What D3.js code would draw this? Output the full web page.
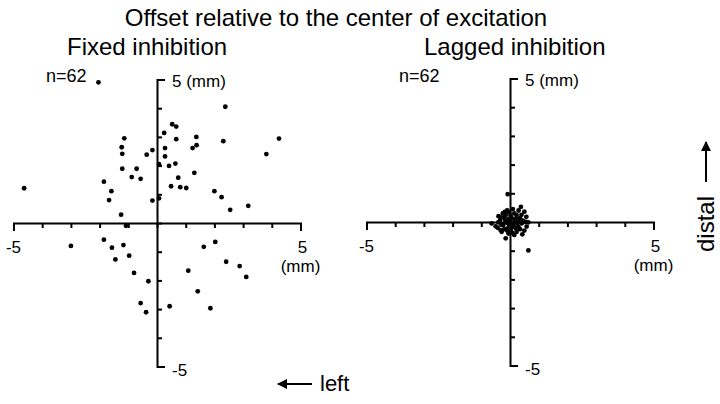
<!DOCTYPE html>
<html lang="en">
<head>
<meta charset="UTF-8">
<title>Offset relative to the center of excitation</title>
<script src="https://cdn.jsdelivr.net/npm/d3@7"></script>
<style>
  body { margin: 0; background: #fff; }
  svg text { font-family: "Liberation Sans", Arial, Helvetica, sans-serif; fill: #000; }
</style>
</head>
<body>
<svg id="chart" width="720" height="404"></svg>
<script>
// values, in mm (x = left/right, y = distal)
var fixedX = [-2.04, -4.63, -1.14, -1.23, -1.21, -1.21, -0.71, -0.88, -0.57, -0.36,
              -0.16, -1.85, -1.59, -1.67, -1.25, -0.16, 0.07, -1.08,
              2.38, 0.53, 0.67, 0.25, 0.67, 1.37, 2.31, 4.25, 0.28, 1.24,
              1.38, 0.28, 3.81, 0.07, 0.42, 0.64, 1.30, 0.74, 0.49, 0.81,
              1.02, 2.00, 2.25, 2.55, 3.18,
              -3.00, -1.85, -1.57, -1.17, -1.45, -0.97, -0.80, -0.30, -0.57, -0.38, 0.44,
              1.63, 2.03, 1.09, 2.41, 2.88, 3.11, 1.42, 1.86];
var fixedY = [4.90, 1.21, 2.95, 2.64, 2.41, 1.89, 1.89, 1.60, 1.54, 2.38,
              2.54, 1.44, 1.11, 0.80, 0.29, 0.78, 0.86, -0.10,
              4.05, 3.44, 3.36, 3.14, 2.92, 3.00, 2.85, 2.94, 2.61, 2.61,
              2.71, 2.32, 2.40, 2.05, 1.99, 2.07, 1.75, 1.58, 1.28, 1.25,
              1.22, 1.11, 0.90, 0.46, 0.60,
              -0.80, -0.58, -0.86, -0.77, -1.27, -1.14, -1.74, -2.03, -2.79, -3.11, -2.90,
              -0.83, -0.66, -1.66, -1.35, -1.50, -1.88, -2.38, -2.97];

var laggedX = [-0.08, 0.38, 0.10, 0.50, -0.03, -0.15, 0.23, -0.31, 0.06, 0.35,
               0.57, -0.17, 0.17, -0.41, -0.64, -0.06, 0.41, 0.64, -0.23, 0.12,
               0.29, -0.43, -0.08, 0.58, 0.03, 0.23, -0.29, 0.43, 0.15, -0.15,
               0.64, -0.25, 0.02, -0.10, 0.30, -0.35, 0.45, -0.05, 0.10, -0.20,
               0.35, -0.12, 0.20, -0.30, 0.50, 0.05, -0.40, 0.25, -0.05, 0.15,
               -0.20, 0.00, 0.40, -0.50, 0.08, -0.18, 0.30, -0.02, 0.20, -0.33,
               0.55, -0.10];
var laggedY = [0.97, 0.53, 0.45, 0.36, 0.34, 0.24, 0.24, 0.16, 0.13, 0.13,
               0.18, 0.07, 0.03, -0.01, -0.05, -0.05, -0.05, -0.01, -0.10, -0.13,
               -0.16, -0.20, -0.22, -0.16, -0.31, -0.34, -0.34, -0.43, -0.45, -0.57,
               -0.99, 0.30, 0.22, 0.40, 0.40, 0.05, 0.05, 0.10, -0.05, -0.25,
               -0.25, 0.00, 0.12, -0.10, -0.30, -0.20, 0.20, -0.05, -0.40, 0.30,
               0.15, 0.05, 0.25, -0.15, -0.38, 0.35, 0.00, -0.12, -0.22, -0.28,
               0.00, -0.30];

var axisTicks = [-5, -4, -3, -2, -1, 0, 1, 2, 3, 4, 5];
var panels = [
  {title: "Fixed inhibition", n: "n=62", xs: fixedX, ys: fixedY},
  {title: "Lagged inhibition", n: "n=62", xs: laggedX, ys: laggedY}
];

var svg = d3.select("#chart");

svg.append("text")
  .attr("x", 336).attr("y", 26)
  .attr("text-anchor", "middle")
  .style("font-size", "24px")
  .text("Offset relative to the center of excitation");

// panel placement (pixel centre of each cross)
var origins = [[157, 223], [510, 222]];
var half = 143.5;
var titleX = [67, 424];

panels.forEach(function(p, i) {
  var cx = origins[i][0], cy = origins[i][1];
  var x = d3.scaleLinear().domain([-5, 5]).range([cx - half, cx + half]);
  var y = d3.scaleLinear().domain([-5, 5]).range([cy + half, cy - half]);
  var g = svg.append("g");

  g.append("g")
    .attr("transform", "translate(0," + cy + ")")
    .call(d3.axisBottom(x).tickValues(axisTicks).tickSize(5).tickSizeOuter(8).tickFormat(""));
  g.append("g")
    .attr("transform", "translate(" + cx + ",0)")
    .call(d3.axisRight(y).tickValues(axisTicks).tickSize(5).tickSizeOuter(8).tickFormat(""));
  g.selectAll(".domain, .tick line").attr("stroke", "#000").attr("stroke-width", 2);

  // tick labels
  g.append("text").attr("x", x(-5)).attr("y", cy + 30)
    .attr("text-anchor", "middle").style("font-size", "17px").text("-5");
  g.append("text").attr("x", x(5) + 2).attr("y", cy + 30)
    .attr("text-anchor", "middle").style("font-size", "17px").text("5");
  g.append("text").attr("x", x(5)).attr("y", cy + 49)
    .attr("text-anchor", "middle").style("font-size", "17px").text("(mm)");
  g.append("text").attr("x", cx + 15).attr("y", y(5) + 7)
    .style("font-size", "17px").text("5 (mm)");
  g.append("text").attr("x", cx + 15).attr("y", y(-5) + 9)
    .style("font-size", "17px").text("-5");

  g.append("text").attr("x", titleX[i]).attr("y", 55)
    .style("font-size", "24px").text(p.title);
  g.append("text").attr("x", cx - 111).attr("y", 82)
    .style("font-size", "18px").text(p.n);

  g.selectAll("circle")
    .data(p.xs.map(function(v, k) { return [v, p.ys[k]]; }))
    .enter().append("circle")
    .attr("cx", function(d) { return x(d[0]); })
    .attr("cy", function(d) { return y(d[1]); })
    .attr("r", 2.4)
    .attr("fill", "#000");
});

// direction arrows
var defs = svg.append("defs");
defs.append("marker")
  .attr("id", "head").attr("viewBox", "0 0 10 10")
  .attr("refX", 9).attr("refY", 5)
  .attr("markerWidth", 5).attr("markerHeight", 5)
  .attr("orient", "auto")
  .append("path").attr("d", "M0,0L10,5L0,10z").attr("fill", "#000");

svg.append("line")
  .attr("x1", 312).attr("y1", 384).attr("x2", 278).attr("y2", 384)
  .attr("stroke", "#000").attr("stroke-width", 2).attr("marker-end", "url(#head)");
svg.append("text").attr("x", 320).attr("y", 391)
  .style("font-size", "22px").text("left");

svg.append("line")
  .attr("x1", 706).attr("y1", 182).attr("x2", 706).attr("y2", 142)
  .attr("stroke", "#000").attr("stroke-width", 2).attr("marker-end", "url(#head)");
svg.append("text")
  .attr("transform", "translate(714,252) rotate(-90)")
  .style("font-size", "24px").text("distal");
</script>
</body>
</html>
